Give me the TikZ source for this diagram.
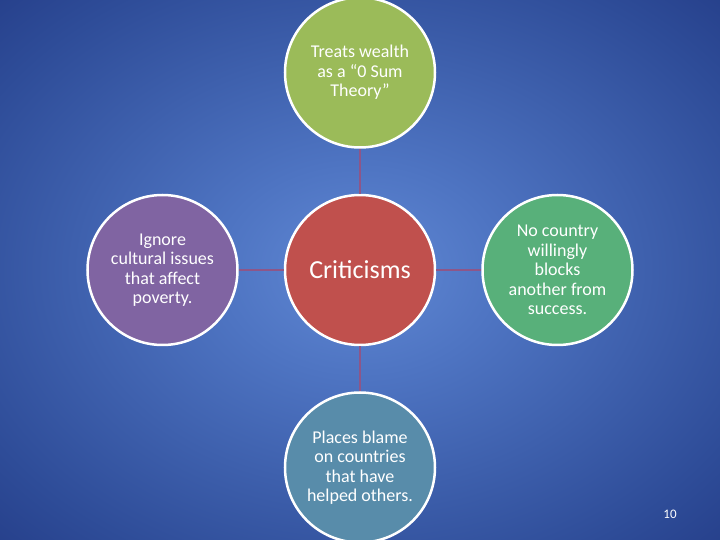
\documentclass[tikz,border=0pt]{standalone}
\usepackage{fontspec}
\setmainfont{Carlito}
\usetikzlibrary{positioning}
\definecolor{bgin}{RGB}{96,136,212}
\definecolor{bgmid}{RGB}{78,116,194}
\definecolor{bgside}{RGB}{46,76,152}
\definecolor{bgout}{RGB}{28,48,122}
\definecolor{cred}{RGB}{192,80,77}
\definecolor{cgreen}{RGB}{155,187,89}
\definecolor{cpurple}{RGB}{128,100,162}
\definecolor{cteal}{RGB}{88,176,122}
\definecolor{cblue}{RGB}{88,140,170}
\definecolor{clink}{RGB}{142,86,136}
\pgfdeclareradialshading{slideglow}{\pgfpoint{0bp}{0bp}}{color(0bp)=(bgin); color(10bp)=(bgmid); color(30bp)=(bgside); color(44bp)=(bgout); color(50bp)=(bgout)}

\begin{document}
\begin{tikzpicture}[idea/.style={circle, draw=white, line width=2.5pt, minimum size=150pt, inner sep=2pt, align=center, text=white, font=\fontsize{18}{19.5}\selectfont},
    link/.style={clink, line width=1.8pt},
    node distance=45pt]
    \shade[shading=slideglow] (-360pt,-270pt) rectangle (360pt,270pt);
    \useasboundingbox (-360pt,-270pt) rectangle (360pt,270pt);

    \node[idea, fill=cred, font=\fontsize{26}{30}\selectfont] (Criticisms) {Criticisms};
    \node[idea, fill=cgreen] (Wealth) [above=of Criticisms] {Treats wealth\\as a “0 Sum\\Theory”};
    \node[idea, fill=cpurple] (Culture) [left=of Criticisms] {Ignore\\cultural issues\\that affect\\poverty.};
    \node[idea, fill=cteal] (Country) [right=of Criticisms] {No country\\willingly\\blocks\\another from\\success.};
    \node[idea, fill=cblue] (Blame) [below=of Criticisms] {Places blame\\on countries\\that have\\helped others.};
    \node[text=white, font=\fontsize{13}{15}\selectfont] (Page) at (310pt,-244pt) {10};

    \draw[link] (Criticisms) to (Wealth);
    \draw[link] (Criticisms) to (Culture);
    \draw[link] (Criticisms) to (Country);
    \draw[link] (Criticisms) to (Blame);
  \end{tikzpicture}
\end{document}
